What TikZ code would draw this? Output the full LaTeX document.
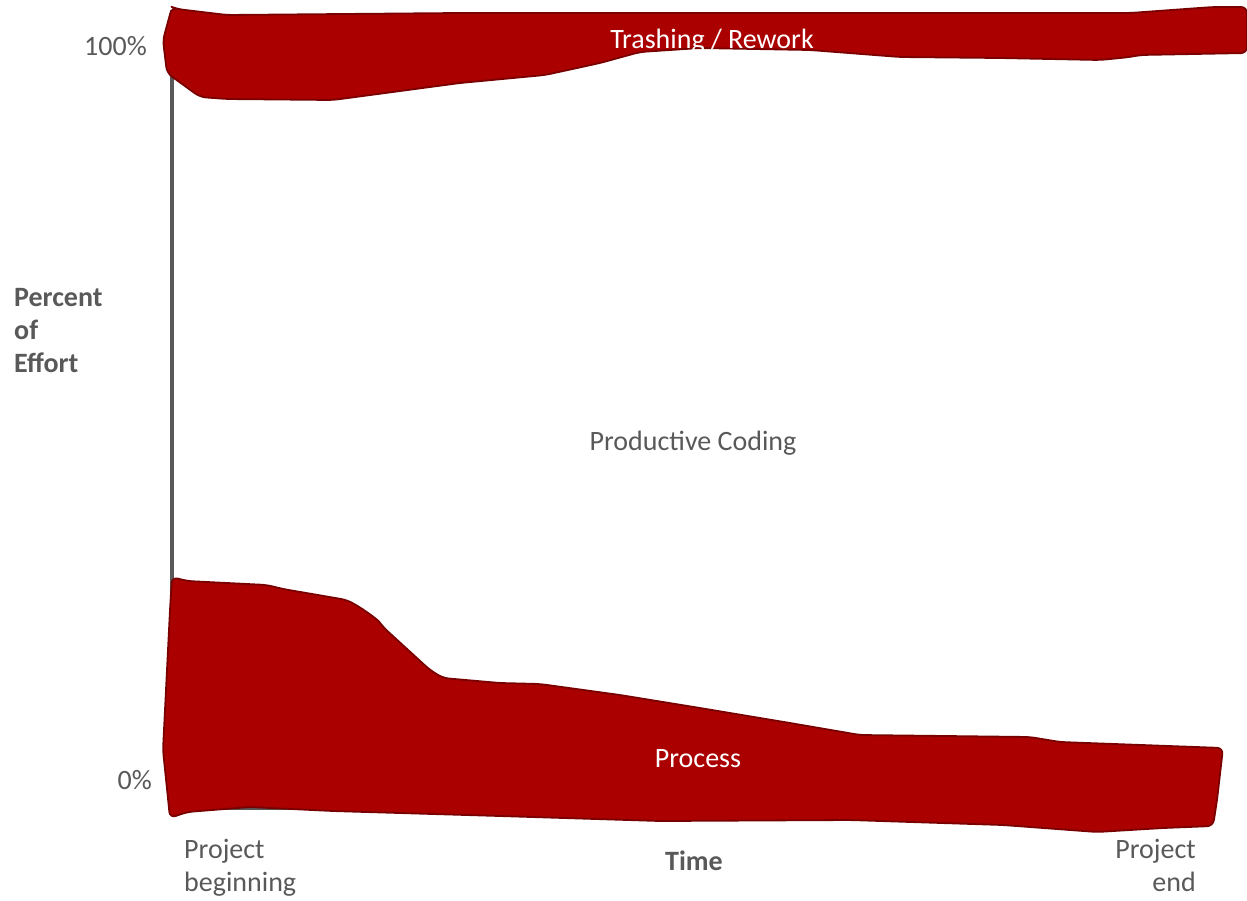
\documentclass[tikz,border=0pt]{standalone}
\usepackage{fontspec}
\setmainfont{Carlito}
\definecolor{band}{HTML}{AA0000}
\definecolor{bandedge}{HTML}{7A0000}
\definecolor{txt}{HTML}{595959}
\begin{document}
\begin{tikzpicture}[x=1pt,y=-1pt,
  bandshape/.style={fill=band,draw=bandedge,line width=1.8pt,line join=round,rounded corners=6pt},
  lbl/.style={font=\fontsize{28}{33}\selectfont,text=txt,inner sep=0pt},
  lblb/.style={lbl,font=\fontsize{28}{33}\selectfont\bfseries},
  wlbl/.style={lbl,text=white},
  axis/.style={draw=txt,line width=3.2pt}]
\useasboundingbox (0,0) rectangle (1247,900);
% axes
\coordinate (ytop) at (172,10);
\coordinate (orig) at (172,808);
\coordinate (xend) at (1215,808);
\draw[axis] (ytop) -- (orig) -- (xend);
% top band
\path[bandshape] (172,7) -- (177,9) -- (227,15) -- (460,13) -- (700,13) -- (1130,13) -- (1213,7) -- (1247,7)
  -- (1247,53) -- (1140,55) -- (1130,57) -- (1100,60) -- (1000,58) -- (900,57) -- (810,50) -- (700,48) -- (640,52)
  -- (600,63) -- (545,75) -- (460,83) -- (333,100) -- (227,99) -- (200,97) -- (167,73) -- (163,40) -- cycle;
% bottom band
\path[bandshape] (172,577) -- (187,581) -- (267,585) -- (283,589) -- (347,600)
  .. controls (365,610) and (378,620) .. (383,627) -- (430,670) -- (443,678) -- (500,683) -- (540,684) -- (620,695)
  -- (700,708) -- (790,723) -- (860,735) -- (1030,737) -- (1060,742) -- (1223,748) -- (1217,800) -- (1213,826)
  -- (1163,828) -- (1097,832) -- (1003,825) -- (850,820) -- (660,821) -- (500,816) -- (333,811) -- (250,807)
  -- (187,812) -- (170,818) -- (163,750) -- (170,610) -- cycle;
% labels
\node[lbl,anchor=east] (p100) at (147,46) {100\%};
\node[lbl,anchor=east] (p0) at (152,780) {0\%};
\node[lblb,anchor=west,align=left] (ylab) at (14,331) {Percent\\of\\Effort};
\node[wlbl] (trash) at (712,41) {Trashing / Rework};
\node[lbl] (prod) at (693,443) {Productive Coding};
\node[wlbl] (proc) at (698,759) {Process};
\node[lbl,anchor=west,align=left] (beg) at (184,868) {Project\\beginning};
\node[lblb] (time) at (694,861) {Time};
\node[lbl,anchor=east,align=right] (end) at (1196,865) {Project\\end};
\end{tikzpicture}
\end{document}
